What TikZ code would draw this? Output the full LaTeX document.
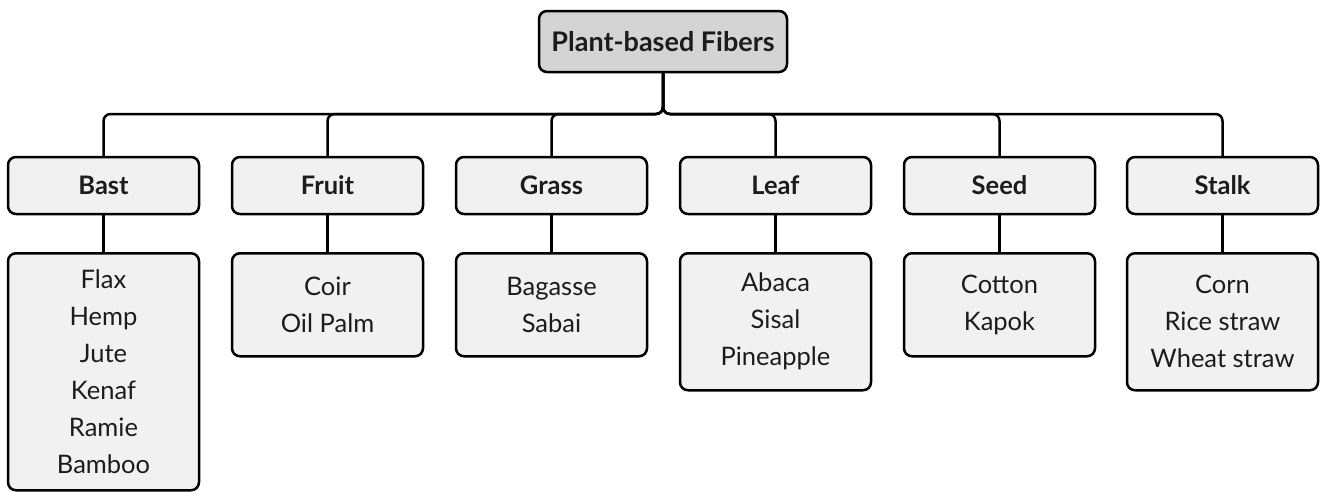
\documentclass[tikz,border=0pt]{standalone}
\usepackage{fontspec}
\setmainfont{Lato}
\definecolor{rootfill}{HTML}{D4D4D4}
\definecolor{boxfill}{HTML}{F0F1F0}
\definecolor{ink}{HTML}{1C1C1C}
\begin{document}
\begin{tikzpicture}[x=1pt,y=-1pt,
  box/.style={draw=black, line width=2.5pt, rounded corners=8pt, inner sep=0pt, text=ink},
  rootbox/.style={box, fill=rootfill, minimum width=248pt, minimum height=61pt, font=\fontsize{27}{30}\selectfont\bfseries},
  catbox/.style={box, fill=boxfill, minimum width=191pt, minimum height=57pt, font=\fontsize{25.5}{28}\selectfont\bfseries},
  subbox/.style={box, fill=boxfill, minimum width=191pt, align=center, anchor=north, font=\fontsize{25.5}{37}\selectfont},
  conn/.style={draw=black, line width=2.5pt, rounded corners=7pt}
]
\useasboundingbox (0,0) rectangle (1322,491);
\node[rootbox] (root) at (663,41.5) {Plant-based Fibers};
\coordinate (bar) at (663,114);

\node[catbox] (bast)  at (103.5,185.5) {Bast};
\node[catbox] (fruit) at (327.5,185.5) {Fruit};
\node[catbox] (grass) at (551.5,185.5) {Grass};
\node[catbox] (leaf)  at (775.5,185.5) {Leaf};
\node[catbox] (seed)  at (999.5,185.5) {Seed};
\node[catbox] (stalk) at (1222.5,185.5) {Stalk};

\node[subbox, minimum height=237pt] (bastsub)  at (103.5,252) {Flax\\Hemp\\Jute\\Kenaf\\Ramie\\Bamboo};
\node[subbox, minimum height=103pt] (fruitsub) at (327.5,252) {Coir\\Oil Palm};
\node[subbox, minimum height=103pt] (grasssub) at (551.5,252) {Bagasse\\Sabai};
\node[subbox, minimum height=137pt] (leafsub)  at (775.5,252) {Abaca\\Sisal\\Pineapple};
\node[subbox, minimum height=103pt] (seedsub)  at (999.5,252) {Cotton\\Kapok};
\node[subbox, minimum height=137pt] (stalksub) at (1222.5,252) {Corn\\Rice straw\\Wheat straw};

\foreach \c in {bast,fruit,grass,leaf,seed,stalk}{
  \draw[conn] (root.south) -- (root.south |- bar) -- (\c.north |- bar) -- (\c.north);
  \draw[conn] (\c.south) -- (\c sub.north);
}
\end{tikzpicture}
\end{document}
